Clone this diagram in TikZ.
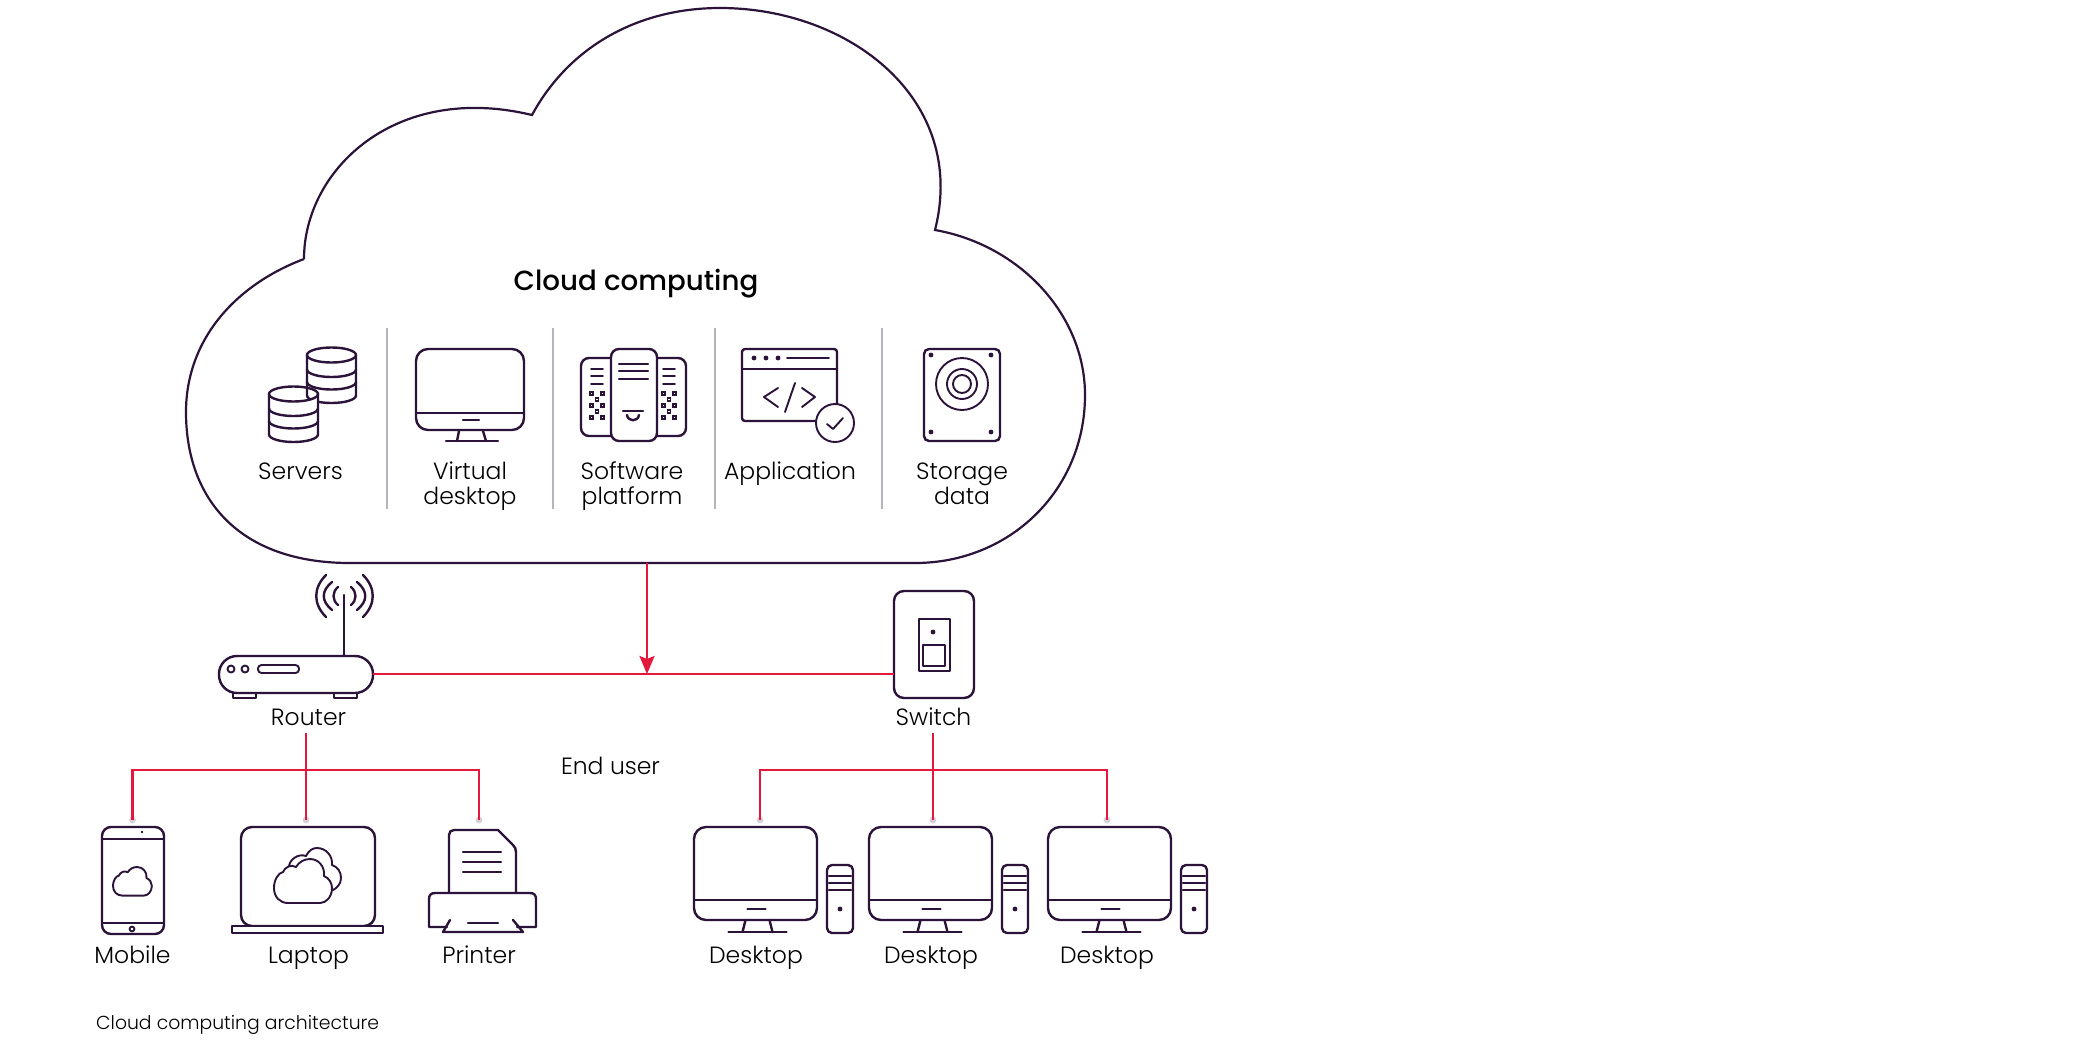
\documentclass[tikz,border=0pt]{standalone}
\usepackage{fontspec}
\setmainfont{Poppins Light}
\newfontfamily\headfont{Poppins Medium}
\usetikzlibrary{arrows.meta,calc}
\definecolor{ink}{HTML}{2B1339}
\definecolor{wire}{HTML}{E4173C}
\definecolor{rule}{HTML}{B9B3BE}
\definecolor{halo}{HTML}{D6D0DA}
\tikzset{
  icon/.style={draw=ink,line width=2.4pt,line cap=round,line join=round},
  thin icon/.style={draw=ink,line width=1.9pt,line cap=round,line join=round},
  panel/.style={draw=ink,line width=2.4pt,fill=white,rounded corners=#1,inner sep=0pt,outer sep=0pt},
  panel/.default=10pt,
  cloudline/.style={draw=ink,line width=2.2pt,fill=white,line join=miter},
  divider/.style={draw=rule,line width=2pt},
  wireline/.style={draw=wire,line width=2.2pt},
  lbl/.style={font=\fontsize{23.5}{25}\selectfont,text=black,align=center,inner sep=0pt,anchor=base},
}
% box node: name, x0, y0, x1, y1, radius
\newcommand{\boxn}[6]{\path let \n1={#4-#2},\n2={#5-#3} in
  node[panel=#6pt,minimum width=\n1 pt,minimum height=\n2 pt] (#1) at ({(#2+#4)/2},{(#3+#5)/2}) {};}
\newcommand{\cylinder}[2]{% x left, y top centre
  \begin{scope}[shift={(#1,#2)}]
  \path[fill=white] (0,0) -- (0,40.5) arc[x radius=24.5,y radius=7.5,start angle=180,end angle=0] -- (49,0) arc[x radius=24.5,y radius=7.5,start angle=0,end angle=180] -- cycle;
  \draw[icon] (0,0) arc[x radius=24.5,y radius=7.5,start angle=180,end angle=-180];
  \draw[icon] (0,0) -- (0,40.5) arc[x radius=24.5,y radius=7.5,start angle=180,end angle=0] -- (49,0);
  \draw[icon] (0,14.5) arc[x radius=24.5,y radius=7.5,start angle=180,end angle=0];
  \draw[icon] (0,27) arc[x radius=24.5,y radius=7.5,start angle=180,end angle=0];
  \end{scope}}
\newcommand{\screen}[6]{% name,x0,y0,x1,y1(bottom),line y
  \boxn{#1}{#2}{#3}{#4}{#5}{12}
  \draw[icon] (#2,#6) -- (#4,#6);
  \draw[icon] ({(#2+#4)/2-8},{(#6+#5)/2-1}) -- ({(#2+#4)/2+10},{(#6+#5)/2-1});
  \draw[icon] ({(#2+#4)/2-10},#5) -- ({(#2+#4)/2-13},{#5+12});
  \draw[icon] ({(#2+#4)/2+14},#5) -- ({(#2+#4)/2+17},{#5+12});
  \draw[icon] ({(#2+#4)/2-27},{#5+12}) -- ({(#2+#4)/2+31},{#5+12});}
\newcommand{\tower}[1]{% x left
  \begin{scope}[shift={(#1,865)}]
  \draw[icon,rounded corners=5pt] (0,0) rectangle (26,68);
  \foreach \yy in {11,18,25} \draw[icon] (2,\yy) -- (24,\yy);
  \fill[ink] (13,44) circle (2.4);
  \end{scope}}
\newcommand{\desktop}[2]{% name, dx
  \begin{scope}[shift={(#2,0)}]
  \screen{#1}{694}{827}{817}{920}{900}
  \tower{827}
  \end{scope}}
\newcommand{\cloudshape}{% 58 wide, 44 tall, origin at top left
  (14,44) .. controls (6,44) and (0,38) .. (0,29) .. controls (0,21) and (4,14) .. (9,13)
  .. controls (11,8) and (17,5) .. (22,8) .. controls (25,3) and (30,0) .. (36,0)
  .. controls (45,0) and (51,8) .. (50,17) .. controls (55,19) and (58,24) .. (58,29)
  .. controls (58,38) and (52,44) .. (46,44) -- cycle}
\newcommand{\checker}[1]{% x left
  \begin{scope}[shift={(#1,392)}]
  \foreach \ax/\ay in {0/0,11/0,5.5/6,0/12,11/12,5.5/18,0/24,11/24} \draw[ink,line width=1.6pt] (\ax,\ay) rectangle ++(3,3);
  \end{scope}}
\begin{document}
\begin{tikzpicture}[x=1pt,y=-1pt]
\useasboundingbox (0,0) rectangle (2084,1061);
% cloud
\draw[cloudline] (304,259)
  .. controls (304,170) and (395,82) .. (532,115)
  .. controls (570,45) and (640,8) .. (720,8)
  .. controls (850,8) and (968,100) .. (935,230)
  .. controls (1020,245) and (1085,315) .. (1085,395)
  .. controls (1085,490) and (1010,563) .. (915,563)
  -- (350,563)
  .. controls (240,563) and (186,500) .. (186,412)
  .. controls (186,340) and (235,285) .. (304,259);
\node[font=\fontsize{27.7}{30}\selectfont\headfont,text=black,inner sep=0pt,anchor=base] (title) at (636,290) {Cloud computing};
% dividers
\draw[divider] (387,328) -- (387,509);
\draw[divider] (553,328) -- (553,509);
\draw[divider] (715,328) -- (715,509);
\draw[divider] (882,328) -- (882,509);
% servers
\cylinder{307}{355}
\cylinder{269}{394}
\node[lbl] (servers) at (300.5,479) {Servers};
% virtual desktop
\boxn{vd}{416}{349}{524}{430}{12}
\draw[icon] (416,413) -- (524,413);
\draw[icon] (463,420) -- (479,420);
\draw[icon] (459,431) -- (457,441);
\draw[icon] (483,431) -- (486,441);
\draw[icon] (446,441) -- (498,441);
\node[lbl] (virtual) at (470,504) {Virtual\\[0pt]desktop};
% software platform
\boxn{spl}{581}{358}{620}{436}{8}
\boxn{spr}{648}{358}{686}{436}{8}
\boxn{spc}{611}{349}{657}{441}{8}
\foreach \yy in {364,371,379} \draw[icon] (619,\yy) -- (648,\yy);
\foreach \yy in {369,376,384} {\draw[thin icon] (591,\yy) -- (603,\yy); \draw[thin icon] (663,\yy) -- (675,\yy);}
\checker{590}\checker{662}
\draw[icon] (623,411) -- (643,411);
\draw[icon] (627,415) .. controls (628,422) and (638,422) .. (639,415);
\node[lbl] (software) at (632,504) {Software\\[0pt]platform};
% application
\boxn{app}{742}{349}{837}{421}{3}
\draw[icon] (742,369) -- (837,369);
\fill[ink] (754,358) circle (2.4) (766,358) circle (2.4) (778,358) circle (2.4);
\draw[thin icon] (787,358) -- (829,358);
\draw[thin icon] (778,388) -- (764,397) -- (778,407);
\draw[thin icon] (795,383) -- (785,412);
\draw[thin icon] (802,388) -- (815,397) -- (802,407);
\draw[thin icon,fill=white] (835,423) circle (19);
\draw[thin icon] (827,424) -- (833,429) -- (843,418);
\node[lbl] (application) at (790,479) {Application};
% storage
\boxn{disk}{924}{349}{1000}{441}{5}
\fill[ink] (931,355) circle (2.4) (991,355) circle (2.4) (931,432) circle (2.4) (991,432) circle (2.4);
\draw[thin icon] (962,384) circle (26) (962,384) circle (15) (962,384) circle (9);
\node[lbl] (storage) at (962,504) {Storage\\[0pt]data};
% router
\boxn{router}{219}{656}{373}{693}{18}
\draw[icon] (233,693) -- (233,698) -- (256,698) -- (256,693);
\draw[icon] (334,693) -- (334,698) -- (357,698) -- (357,693);
\draw[thin icon] (231,669) circle (3.5) (245,669) circle (3.5);
\draw[thin icon,rounded corners=3.5pt] (258,665) rectangle (299,673);
\draw[icon] (344,595) -- (344,656);
\draw[icon] (338,587) .. controls (332,592) and (332,600) .. (338,605);
\draw[icon] (351,587) .. controls (357,592) and (357,600) .. (351,605);
\draw[icon] (332,582) .. controls (321,591) and (321,601) .. (332,610);
\draw[icon] (357,582) .. controls (368,591) and (368,601) .. (357,610);
\draw[icon] (326,575) .. controls (313,588) and (313,604) .. (326,617);
\draw[icon] (363,575) .. controls (376,588) and (376,604) .. (363,617);
\node[lbl] (routerlbl) at (308.5,725) {Router};
% switch
\boxn{switch}{894}{591}{974}{698}{10}
\draw[thin icon] (919,619) rectangle (950,671);
\fill[ink] (933,632) circle (2.4);
\draw[icon] (923,645) rectangle (945,666);
\node[lbl] (switchlbl) at (933.5,725) {Switch};
% end user
\node[lbl] (enduser) at (610.5,774) {End user};
% mobile
\boxn{mobile}{102}{827}{164}{934}{9}
\draw[thin icon] (102,839) -- (164,839) (102,923) -- (164,923);
\fill[ink] (142,832) circle (1.4);
\draw[thin icon] (132,929) circle (2.4);
\begin{scope}[shift={(113,867)},x=0.67pt,y=-0.65pt]
\draw[thin icon] \cloudshape;
\end{scope}
\node[lbl] (mobilelbl) at (132.5,963) {Mobile};
% laptop
\boxn{laptop}{241}{827}{375}{926}{11}
\draw[icon,fill=white] (232,926) rectangle (383,933);
\draw[thin icon] (289,867) .. controls (289,860) and (298,853) .. (306,856) .. controls (309,850) and (313,848) .. (317,848) .. controls (326,848) and (333,856) .. (332,865) .. controls (338,867) and (341,872) .. (341,878) .. controls (341,884) and (337,888) .. (333,890);
\begin{scope}[shift={(274,859)}]
\draw[thin icon,fill=white] \cloudshape;
\end{scope}
\node[lbl] (laptoplbl) at (308.5,963) {Laptop};
% printer
\draw[icon] (449,893) -- (449,835) .. controls (449,832) and (451,830) .. (454,830) -- (498,830) -- (513,845) .. controls (515,847) and (516,849) .. (516,852) -- (516,893);
\coordinate (printer) at (479,827);
\foreach \yy in {852,862,872} \draw[icon] (463,\yy) -- (501,\yy);
\draw[icon] (447,927) -- (429,927) -- (429,899) .. controls (429,895) and (431,893) .. (435,893) -- (530,893) .. controls (534,893) and (536,895) .. (536,899) -- (536,927) -- (517,927);
\draw[icon] (450,920) -- (443,932) -- (523,932) -- (513,920);
\draw[icon] (468,923) -- (498,923);
\node[lbl] (printerlbl) at (479,963) {Printer};
% desktops
\desktop{deskA}{0}
\desktop{deskB}{175}
\desktop{deskC}{354}
\node[lbl] (labA) at (756,963) {Desktop};
\node[lbl] (labB) at (931,963) {Desktop};
\node[lbl] (labC) at (1107,963) {Desktop};
% wires
\coordinate (cloudbottom) at (647,563);
\coordinate (rjoin) at (647,674);
\coordinate (rtop) at (306,733);
\coordinate (stop) at (933,733);
\coordinate (dm) at (132.5,820);
\coordinate (dl) at (306,820);
\coordinate (dp) at (479,820);
\coordinate (da) at (760,820);
\coordinate (db) at (933,820);
\coordinate (dc) at (1107,820);
\foreach \dd in {dm,dl,dp,da,db,dc} \fill[halo] (\dd) circle (3.4);
\draw[wireline] (router.east |- rjoin) -- (switch.west |- rjoin);
\draw[wireline,-{Stealth[length=18pt,width=15pt,inset=3pt]}] (cloudbottom) -- (rjoin);
\draw[wireline] (rtop) -- (dl);
\draw[wireline] (dm) -- (132.5,770) -- (479,770) -- (dp);
\draw[wireline] (stop) -- (db);
\draw[wireline] (da) -- (760,770) -- (1107,770) -- (dc);
\node[font=\fontsize{18.8}{24}\selectfont,text=black,inner sep=0pt,anchor=base west] (caption) at (96,1029) {Cloud computing architecture};
\end{tikzpicture}
\end{document}
